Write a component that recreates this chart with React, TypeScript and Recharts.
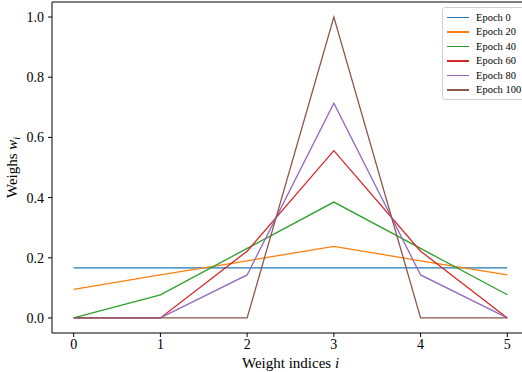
import { LineChart, Line, XAxis, YAxis, ReferenceLine, Label } from "recharts";

const indices = [0, 1, 2, 3, 4, 5];
const epoch0 = [0.1667, 0.1667, 0.1667, 0.1667, 0.1667, 0.1667];
const epoch20 = [0.095, 0.143, 0.19, 0.238, 0.19, 0.143];
const epoch40 = [0, 0.077, 0.231, 0.385, 0.231, 0.077];
const epoch60 = [0, 0, 0.222, 0.556, 0.222, 0];
const epoch80 = [0, 0, 0.143, 0.714, 0.143, 0];
const epoch100 = [0, 0, 0, 1.0, 0, 0];

const xTicks = [0, 1, 2, 3, 4, 5];
const yTicks = [0, 0.2, 0.4, 0.6, 0.8, 1.0];

const series = [
  { key: "e0", name: "Epoch 0", values: epoch0, color: "#1f77b4" },
  { key: "e20", name: "Epoch 20", values: epoch20, color: "#ff7f0e" },
  { key: "e40", name: "Epoch 40", values: epoch40, color: "#2ca02c" },
  { key: "e60", name: "Epoch 60", values: epoch60, color: "#d62728" },
  { key: "e80", name: "Epoch 80", values: epoch80, color: "#9467bd" },
  { key: "e100", name: "Epoch 100", values: epoch100, color: "#8c564b" },
];

const data = indices.map((x, i) => {
  const row: Record<string, number> = { x };
  series.forEach((s) => (row[s.key] = s.values[i]));
  return row;
});

const FONT = "Liberation Serif, serif";

function XTick({ x, y, payload }: any) {
  return (
    <text x={x} y={y + 10} textAnchor="middle" fontFamily={FONT} fontSize={14} fill="#000">
      {payload.value}
    </text>
  );
}

function YTick({ x, y, payload }: any) {
  return (
    <text x={x - 2} y={y + 5} textAnchor="end" fontFamily={FONT} fontSize={14} fill="#000">
      {Number(payload.value).toFixed(1)}
    </text>
  );
}

function LegendBox() {
  return (
    <div
      style={{
        position: "absolute",
        left: 442,
        top: 7,
        width: 90,
        boxSizing: "border-box",
        border: "1px solid #d0d0d0",
        borderRadius: 3,
        background: "rgba(255,255,255,0.8)",
        padding: "2px 0 2px 4px",
        fontFamily: FONT,
        fontSize: 10.5,
        color: "#000",
        whiteSpace: "nowrap",
      }}
    >
      {series.map((s) => (
        <div key={s.key} style={{ display: "flex", alignItems: "center", height: 14.5 }}>
          <span style={{ display: "inline-block", width: 22, height: 1.5, background: s.color, marginRight: 7 }} />
          <span>{s.name}</span>
        </div>
      ))}
    </div>
  );
}

export default function App() {
  return (
    <div style={{ position: "absolute", left: 0, top: 0, width: 522, height: 372, overflow: "hidden", background: "#fff" }}>
      <LineChart width={530} height={372} data={data} margin={{ top: 2, right: 1, left: 0, bottom: 0 }}>
        <XAxis
          dataKey="x"
          type="number"
          domain={[-0.25, 5.25]}
          ticks={xTicks}
          allowDataOverflow
          height={39}
          tick={<XTick />}
          tickLine={{ stroke: "#000" }}
          tickSize={4}
          axisLine={{ stroke: "#000" }}
        >
          <Label
            content={({ viewBox }: any) => (
              <text x={viewBox.x + viewBox.width / 2} y={viewBox.y + 35} textAnchor="middle" fontFamily={FONT} fontSize={15} fill="#000">
                Weight indices <tspan fontStyle="italic">i</tspan>
              </text>
            )}
          />
        </XAxis>
        <YAxis
          type="number"
          domain={[-0.05, 1.05]}
          ticks={yTicks}
          allowDataOverflow
          width={52}
          tick={<YTick />}
          tickLine={{ stroke: "#000" }}
          tickSize={4}
          axisLine={{ stroke: "#000" }}
        >
          <Label
            content={({ viewBox }: any) => {
              const cx = 17;
              const cy = viewBox.y + viewBox.height / 2;
              return (
                <text x={cx} y={cy} transform={`rotate(-90 ${cx} ${cy})`} textAnchor="middle" fontFamily={FONT} fontSize={15} fill="#000">
                  Weighs <tspan fontStyle="italic">w</tspan>
                  <tspan fontStyle="italic" fontSize={10} dy={3}>i</tspan>
                </text>
              );
            }}
          />
        </YAxis>
        <ReferenceLine y={1.05} stroke="#000" ifOverflow="visible" />
        <ReferenceLine x={5.25} stroke="#000" ifOverflow="visible" />
        {series.map((s) => (
          <Line
            key={s.key}
            dataKey={s.key}
            name={s.name}
            stroke={s.color}
            strokeWidth={1.3}
            dot={false}
            activeDot={false}
            type="linear"
            isAnimationActive={false}
          />
        ))}
      </LineChart>
      <LegendBox />
    </div>
  );
}
